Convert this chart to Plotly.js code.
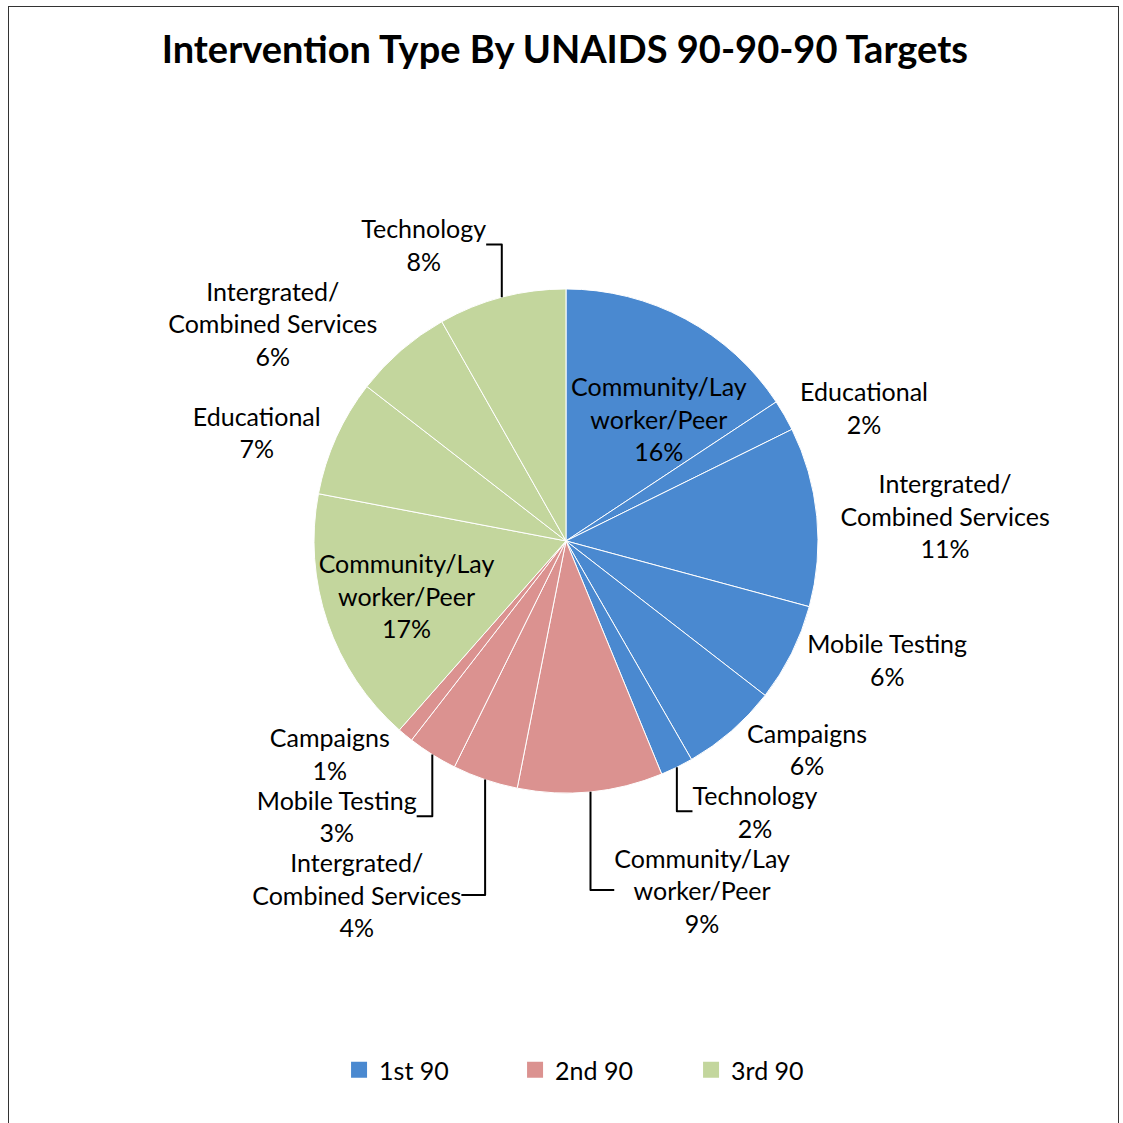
<!DOCTYPE html>
<html>
<head>
<meta charset="utf-8">
<script src="https://cdn.plot.ly/plotly-3.0.1.min.js"></script>
<style>
  html, body { margin: 0; padding: 0; background: #fff; }
  #wrap { position: relative; width: 1123px; height: 1123px; overflow: hidden; }
  #frame { position: absolute; left: 8px; top: 6px; width: 1111px; height: 1130px; border: 1.5px solid #333; box-sizing: border-box; pointer-events: none; }
  #chart { position: absolute; left: 0; top: 0; width: 1123px; height: 1123px; }
</style>
</head>
<body>
<div id="wrap">
  <div id="chart"></div>
  <div id="frame"></div>
</div>
<script>
// ---- data ----
const categories = [
  "Community/Lay<br>worker/Peer", "Educational", "Intergrated/<br>Combined Services", "Mobile Testing", "Campaigns", "Technology",
  "Community/Lay<br>worker/Peer", "Intergrated/<br>Combined Services", "Mobile Testing", "Campaigns",
  "Community/Lay<br>worker/Peer", "Educational", "Intergrated/<br>Combined Services", "Technology"
];
const groups = [
  "1st 90", "1st 90", "1st 90", "1st 90", "1st 90", "1st 90",
  "2nd 90", "2nd 90", "2nd 90", "2nd 90",
  "3rd 90", "3rd 90", "3rd 90", "3rd 90"
];
const values = [15.7, 2.0, 11.5, 6.3, 6.2, 2.1, 9.3, 4.2, 3.2, 1.0, 16.5, 7.5, 6.3, 8.2];
const pctLabels = ["16%", "2%", "11%", "6%", "6%", "2%", "9%", "4%", "3%", "1%", "17%", "7%", "6%", "8%"];
const groupNames = ["1st 90", "2nd 90", "3rd 90"];
const groupColors = {"1st 90": "#4a89d0", "2nd 90": "#db9290", "3rd 90": "#c3d69d"};

// ---- build ----
const W = 1123, H = 1123;
const FONT = "Lato, 'Open Sans', sans-serif";
const FS = 25;
const DOMAIN = { x: [0.2796, 0.7284], y: [0.2939, 0.7427] };

const ids = categories.map((c, i) => groups[i] + " | " + c.replace(/<br>/g, " "));
const texts = categories.map((c, i) => c + "<br>" + pctLabels[i]);
const colors = groups.map(g => groupColors[g]);

// The first slice's label is placed as an annotation so that it stays inside
// its own slice (to the right of the 12 o'clock edge), as in the reference.
const positions = values.map((v, i) => i === 0 ? "none" : (v >= 15 ? "inside" : "outside"));

const total = values.reduce((a, b) => a + b, 0);
const cxPx = (DOMAIN.x[0] + DOMAIN.x[1]) / 2 * W;
const cyPx = (1 - (DOMAIN.y[0] + DOMAIN.y[1]) / 2) * H;
const rPx = Math.min((DOMAIN.x[1] - DOMAIN.x[0]) * W, (DOMAIN.y[1] - DOMAIN.y[0]) * H) / 2;

function measure(line) {
  const c = document.createElement("canvas").getContext("2d");
  c.font = FS + "px Lato";
  return c.measureText(line).width;
}

const annotations = [];
{
  const i = 0;
  const start = 0;
  const mid = (start + values[i] / 2) / total * 2 * Math.PI;
  let px = cxPx + 0.55 * rPx * Math.sin(mid);
  const py = cyPx - 0.55 * rPx * Math.cos(mid);
  const lines = texts[i].split("<br>");
  const w = Math.max(...lines.map(measure));
  const left = Math.max(cxPx + 3, px - w / 2);
  annotations.push({
    text: texts[i], showarrow: false,
    xref: "paper", yref: "paper",
    x: left / W, xanchor: "left",
    y: 1 - py / H, yanchor: "middle",
    align: "center",
    font: { family: FONT, size: FS, color: "#000" }
  });
}

const pie = {
  type: "pie",
  labels: ids,
  values: values,
  text: texts,
  textinfo: "text",
  textposition: positions,
  insidetextorientation: "horizontal",
  sort: false,
  direction: "clockwise",
  rotation: 0,
  marker: { colors: colors, line: { color: "#ffffff", width: 1 } },
  textfont: { family: FONT, size: FS, color: "#000" },
  insidetextfont: { family: FONT, size: FS, color: "#000" },
  outsidetextfont: { family: FONT, size: FS, color: "#000" },
  domain: DOMAIN,
  showlegend: false,
  hoverinfo: "label+percent",
  automargin: false
};

const legendTraces = groupNames.map(g => ({
  type: "scatter",
  mode: "markers",
  x: [null], y: [null],
  name: g,
  marker: { symbol: "square", size: 16, color: groupColors[g] },
  showlegend: true,
  hoverinfo: "skip"
}));

const layout = {
  width: W, height: H,
  margin: { l: 0, r: 0, t: 0, b: 0 },
  paper_bgcolor: "#ffffff",
  plot_bgcolor: "rgba(0,0,0,0)",
  uniformtext: { minsize: FS, mode: "show" },
  title: {
    text: "<b>Intervention Type By UNAIDS 90-90-90 Targets</b>",
    font: { family: FONT, size: 38, color: "#000" },
    x: 0.503, xanchor: "center",
    y: 1 - 50 / H, yanchor: "middle"
  },
  xaxis: { visible: false },
  yaxis: { visible: false },
  annotations: annotations,
  legend: {
    orientation: "h",
    x: 0.537, xanchor: "center",
    y: 1 - 1070 / H, yanchor: "middle",
    font: { family: FONT, size: FS, color: "#000" },
    entrywidth: 131,
    entrywidthmode: "pixels"
  },
  showlegend: true
};

Plotly.newPlot("chart", [pie].concat(legendTraces), layout, { displayModeBar: false, staticPlot: true });
</script>
</body>
</html>
